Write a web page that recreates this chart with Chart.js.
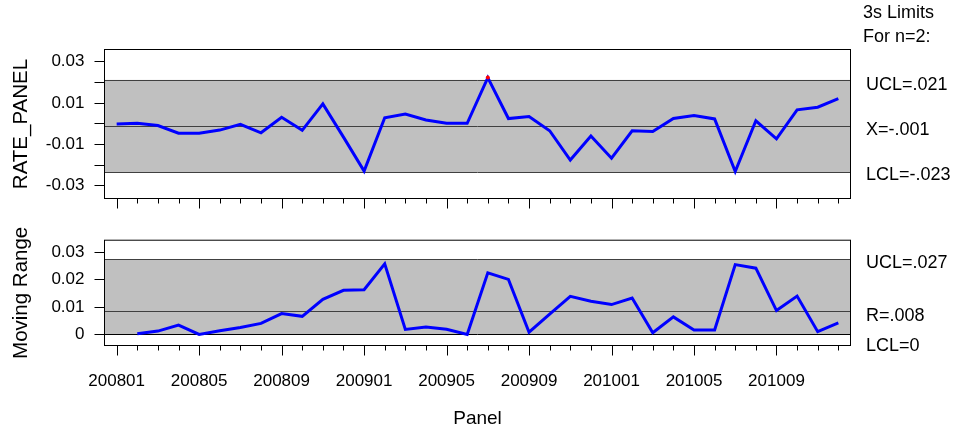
<!DOCTYPE html>
<html>
<head>
<meta charset="utf-8">
<script src="https://cdn.jsdelivr.net/npm/chart.js@4.4.0/dist/chart.umd.min.js"></script>
<style>
body { margin: 0; background: #fff; }
#wrap { position: relative; width: 958px; height: 431px; }
canvas { position: absolute; left: 0; }
#rateChart { top: 0; }
#mrChart { top: 220px; }
</style>
</head>
<body>
<div id="wrap">
  <canvas id="rateChart" width="958" height="220"></canvas>
  <canvas id="mrChart" width="958" height="211"></canvas>
</div>
<script>
var panels = ['200801','200802','200803','200804','200805','200806','200807','200808','200809','200810','200811','200812',
              '200901','200902','200903','200904','200905','200906','200907','200908','200909','200910','200911','200912',
              '201001','201002','201003','201004','201005','201006','201007','201008','201009','201010','201011','201012']

var rateValues = [-0.0002, 0.0002, -0.0009, -0.0046, -0.0046, -0.0031, -0.0003, -0.0044, 0.0031, -0.0032, 0.0096, -0.0065,
                  -0.0229, 0.0029, 0.0047, 0.0018, 0.0002, 0.0002, 0.0223, 0.0025, 0.0035, -0.0034, -0.0176, -0.0060,
                  -0.0167, -0.0034, -0.0038, 0.0025, 0.0039, 0.0023, -0.0231, 0.0014, -0.0073, 0.0067, 0.0080, 0.0121]

var movingRange = [null, 0.0002, 0.0012, 0.0034, 0.0000, 0.0013, 0.0025, 0.0040, 0.0076, 0.0066, 0.0128, 0.0161,
                   0.0163, 0.0258, 0.0018, 0.0027, 0.0019, 0.0000, 0.0225, 0.0201, 0.0008, 0.0074, 0.0139, 0.0121,
                   0.0109, 0.0133, 0.0006, 0.0064, 0.0016, 0.0016, 0.0255, 0.0242, 0.0087, 0.0140, 0.0010, 0.0042]

// UCL, centre, LCL
var rateLimits = [0.0212, -0.0011, -0.0234]
var mrLimits = [0.0274, 0.0084, 0]
var rateLimitText = ['UCL=.021', 'X=-.001', 'LCL=-.023']
var mrLimitText = ['UCL=.027', 'R=.008', 'LCL=0']
var headerText = ['3s Limits', 'For n=2:']

var rateTicks = [-0.03, -0.02, -0.01, 0, 0.01, 0.02, 0.03]
var rateTickLabels = ['-0.03', '', '-0.01', '', '0.01', '', '0.03']
var mrTicks = [0, 0.01, 0.02, 0.03]
var mrTickLabels = ['0', '0.01', '0.02', '0.03']

var FONT = '"Liberation Sans", Arial, sans-serif'

function controlPlugin(limits, texts, shifts, header) {
    return {
        id: 'control',
        beforeDatasetsDraw: function (chart) {
            var ctx = chart.ctx, a = chart.chartArea, y = chart.scales.y
            var yu = y.getPixelForValue(limits[0]), yl = y.getPixelForValue(limits[2])
            ctx.save()
            ctx.fillStyle = '#c0c0c0'
            ctx.fillRect(a.left, yu, a.right - a.left, yl - yu)
            ctx.lineWidth = 1
            limits.forEach(function (v) {
                var p = Math.round(y.getPixelForValue(v)) + 0.5
                ctx.strokeStyle = v === 0 ? '#000' : '#404040'
                ctx.beginPath()
                ctx.moveTo(a.left, p)
                ctx.lineTo(a.right, p)
                ctx.stroke()
            })
            ctx.restore()
        },
        afterDraw: function (chart) {
            var ctx = chart.ctx, a = chart.chartArea, x = chart.scales.x, y = chart.scales.y
            ctx.save()
            ctx.strokeStyle = '#000'
            ctx.lineWidth = 1
            ctx.strokeRect(a.left, a.top, a.right - a.left, a.bottom - a.top)
            // category tick marks under the box
            for (var i = 0; i < panels.length; i++) {
                var px = Math.round(x.getPixelForValue(i)) + 0.5
                ctx.beginPath()
                ctx.moveTo(px, a.bottom)
                ctx.lineTo(px, a.bottom + (i % 4 === 0 ? 10 : 5))
                ctx.stroke()
            }
            ctx.fillStyle = '#000'
            ctx.textAlign = 'left'
            ctx.textBaseline = 'middle'
            ctx.font = '18px ' + FONT
            texts.forEach(function (t, i) {
                ctx.fillText(t, 866, y.getPixelForValue(limits[i]) + shifts[i])
            })
            if (header) {
                ctx.fillText(header[0], 863, 13)
                ctx.fillText(header[1], 863, 37)
            }
            ctx.restore()
        }
    }
}

function yScale(min, max, ticks, labels, title) {
    return {
        min: min,
        max: max,
        afterFit: function (s) { s.width = 104.5 },
        afterBuildTicks: function (s) { s.ticks = ticks.map(function (v) { return { value: v } }) },
        border: { display: false },
        grid: { drawOnChartArea: false, drawTicks: true, tickLength: 10, color: '#000', lineWidth: 1 },
        ticks: {
            autoSkip: false,
            padding: 10,
            color: '#000',
            font: { family: FONT, size: 17 },
            callback: function (v, i) { return labels[i] }
        },
        title: { display: true, text: title, color: '#000', font: { family: FONT, size: 20.5 }, padding: { top: 9, bottom: 0 } }
    }
}

function toPoints(arr) {
    return arr.map(function (v, i) { return { x: i, y: v } })
}

new Chart(document.getElementById('rateChart'), {
    type: 'line',
    data: {
        datasets: [{
            data: toPoints(rateValues),
            borderColor: '#0000ff',
            borderWidth: 3,
            tension: 0,
            pointRadius: function (c) { return rateValues[c.dataIndex] > rateLimits[0] ? 2 : 0 },
            pointBackgroundColor: '#ff0000',
            pointBorderWidth: 0
        }]
    },
    options: {
        responsive: false,
        animation: false,
        layout: { padding: { left: 0, top: 49.5, right: 107.5, bottom: 21.5 } },
        plugins: { legend: { display: false }, tooltip: { enabled: false } },
        scales: {
            x: { type: 'linear', min: -0.59, max: 35.59, display: false },
            y: yScale(-0.03619, 0.0359, rateTicks, rateTickLabels, 'RATE_PANEL')
        }
    },
    plugins: [controlPlugin(rateLimits, rateLimitText, [5, 4, 3], headerText)]
})

new Chart(document.getElementById('mrChart'), {
    type: 'line',
    data: {
        datasets: [{
            data: toPoints(movingRange),
            borderColor: '#0000ff',
            borderWidth: 3,
            tension: 0,
            pointRadius: 0
        }]
    },
    options: {
        responsive: false,
        animation: false,
        layout: { padding: { left: 0, top: 19.5, right: 107.5, bottom: 0 } },
        plugins: { legend: { display: false }, tooltip: { enabled: false } },
        scales: {
            x: {
                type: 'linear',
                min: -0.59,
                max: 35.59,
                afterFit: function (s) { s.height = 85.5 },
                afterBuildTicks: function (s) { s.ticks = panels.map(function (p, i) { return { value: i } }) },
                border: { display: false },
                grid: { display: false, drawTicks: false, tickLength: 0 },
                ticks: {
                    autoSkip: false,
                    maxRotation: 0,
                    padding: 26,
                    color: '#000',
                    font: { family: FONT, size: 17 },
                    callback: function (v, i) { return i % 4 === 0 ? panels[i] : '' }
                },
                title: { display: true, text: 'Panel', color: '#000', font: { family: FONT, size: 19 }, padding: { top: 0, bottom: 1 } }
            },
            y: yScale(-0.00407, 0.03443, mrTicks, mrTickLabels, 'Moving Range')
        }
    },
    plugins: [controlPlugin(mrLimits, mrLimitText, [4, 5, 12], null)]
})
</script>
</body>
</html>
